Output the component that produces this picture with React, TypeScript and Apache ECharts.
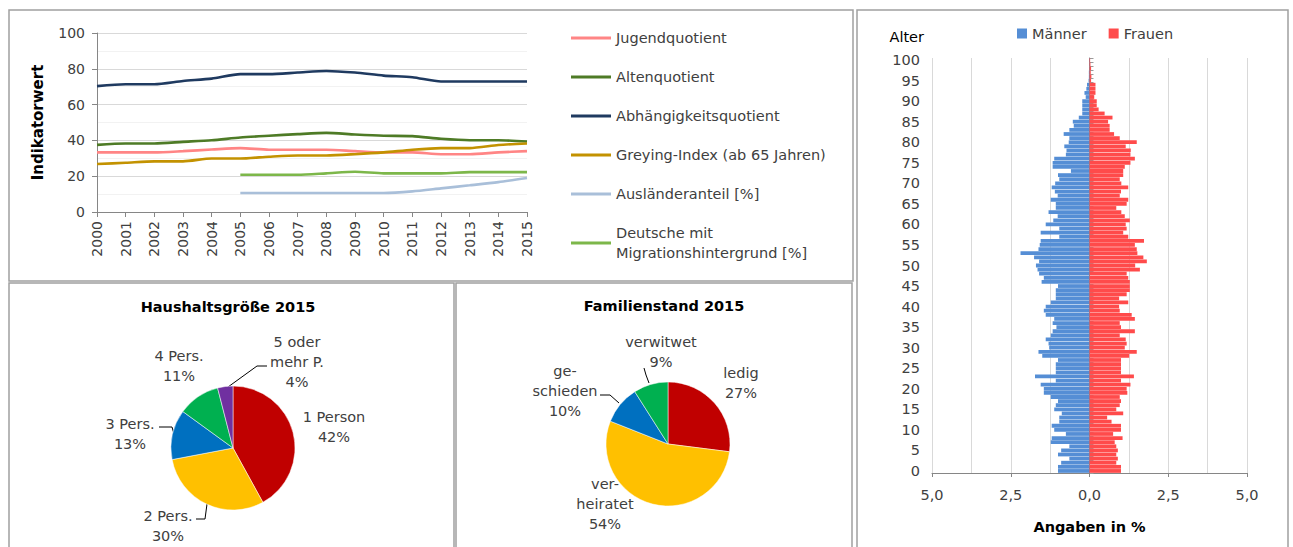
import React, { useEffect, useRef } from "react";
import * as echarts from "echarts";

const FONT = "DejaVu Sans";
const TXT = "#404040";

// ---- Line chart data ----
const years = ["2000","2001","2002","2003","2004","2005","2006","2007","2008","2009","2010","2011","2012","2013","2014","2015"];
const jugend = [33.3,33.3,33.3,34,34.9,35.7,34.8,34.8,34.8,34,33.3,33.3,32.3,32.3,33.3,34];
const alten = [37.5,38.3,38.3,39.2,40.1,41.6,42.6,43.5,44.2,43.3,42.6,42.4,40.9,40.1,40.1,39.4];
const abhaengig = [70.3,71.4,71.4,73.2,74.5,77,77,77.9,78.8,77.9,76.2,75.3,72.9,72.9,72.9,72.9];
const greying = [26.8,27.5,28.3,28.3,29.9,29.9,30.9,31.6,31.6,32.3,33.3,34.8,35.7,35.7,37.4,38.3];
const auslaender = [null,null,null,null,null,10.6,10.6,10.6,10.6,10.6,10.6,11.5,13.2,14.9,16.7,19];
const migration = [null,null,null,null,null,20.8,20.8,20.8,21.6,22.5,21.6,21.6,21.6,22.3,22.3,22.3];
const lineNames = [
  "Jugendquotient",
  "Altenquotient",
  "Abhängigkeitsquotient",
  "Greying-Index (ab 65 Jahren)",
  "Ausländeranteil [%]",
  "Deutsche mit\nMigrationshintergrund [%]",
];
const lineColors = ["#FF8585", "#4E7B26", "#1F3A60", "#C39200", "#A9BFD9", "#7DB74A"];
const lineData = [jugend, alten, abhaengig, greying, auslaender, migration];

// ---- Pie data ----
const hhNames = ["1 Person", "2 Pers.", "3 Pers.", "4 Pers.", "5 oder\nmehr P."];
const hhValues = [42, 30, 13, 11, 4];
const hhColors = ["#C00000", "#FFC000", "#0070C0", "#00B050", "#7030A0"];
const famNames = ["ledig", "ver-\nheiratet", "ge-\nschieden", "verwitwet"];
const famValues = [27, 54, 10, 9];
const famColors = ["#C00000", "#FFC000", "#0070C0", "#00B050"];

// label placement (positions, not data)
const hhLabelPos = [
  { x: 334, y: 427 },
  { x: 168, y: 526, line: [[196, 519], [205, 519], [207, 504]] },
  { x: 130, y: 434, line: [[159, 427], [172, 427], [174, 434]] },
  { x: 179, y: 366 },
  { x: 297, y: 362, line: [[267, 366], [257, 366], [228, 387]] },
];
const famLabelPos = [
  { x: 741, y: 383 },
  { x: 605, y: 504 },
  { x: 565, y: 391, line: [[600, 395], [610, 395], [619, 403]] },
  { x: 661, y: 352, line: [[644, 368], [646, 375], [649, 383]] },
];

// ---- Pyramid data (age 0 .. 100) ----
const ages = Array.from({ length: 101 }, (_, i) => String(i));
const maenner = [
  1.0,1.0,0.9,0.64,1.0,0.9,0.64,1.23,1.2,0.75,
  1.12,1.2,0.96,0.96,0.88,1.12,1.07,1.0,1.23,1.45,
  1.45,1.55,1.07,1.73,1.07,1.07,1.07,1.0,1.5,1.62,
  1.28,1.3,1.39,1.23,1.17,1.05,1.17,1.12,1.39,1.45,
  1.39,1.23,1.07,1.07,1.07,1.0,1.52,1.45,1.6,1.65,
  1.7,1.6,1.76,2.19,1.62,1.58,1.55,0.96,1.55,0.96,
  1.39,1.15,1.01,1.3,1.07,1.07,1.23,1.01,1.1,1.2,
  1.09,0.96,1.0,0.59,1.17,1.17,1.12,0.75,0.73,0.8,
  0.66,0.64,0.82,0.64,0.5,0.53,0.34,0.23,0.23,0.23,
  0.23,0.12,0.16,0.1,0.08,0.03,0.02,0.02,0.01,0.01,
  0.01,
];
const frauen = [
  1.0,1.0,0.85,0.9,0.85,0.9,0.85,0.8,1.05,0.75,
  1.0,1.0,0.7,0.56,1.07,0.85,0.96,1.0,0.96,1.2,
  1.18,1.3,1.0,1.41,1.0,1.0,1.0,1.0,1.26,1.5,
  1.12,1.18,1.15,0.96,1.44,1.0,0.96,1.44,1.34,0.96,
  0.94,1.23,0.94,1.18,1.28,1.28,1.28,1.23,1.18,1.6,
  1.45,1.82,1.71,1.52,1.5,1.44,1.73,1.23,1.07,1.18,
  1.15,1.28,1.12,1.01,0.85,1.18,1.23,0.96,1.0,1.23,
  1.01,0.96,1.07,1.07,1.12,1.3,1.44,1.3,1.31,1.15,
  1.5,0.96,0.78,0.64,0.64,0.59,0.73,0.48,0.29,0.23,
  0.23,0.15,0.19,0.19,0.19,0.05,0.06,0.04,0.05,0.03,
  0.02,
];

const baseText = { fontFamily: FONT, color: TXT, fontSize: 14.5 };

export default function App() {
  const ref = useRef<HTMLDivElement>(null);
  useEffect(() => {
    document.body.style.margin = "0";
    document.body.style.overflow = "hidden";
    const chart = echarts.init(ref.current as HTMLDivElement, null, { renderer: "svg" });

    const pieLabel = {
      ...baseText,
      lineHeight: 20,
      formatter: (p: any) => `${p.name}\n${Math.round(p.percent)}%`,
    };

    const option: any = {
      animation: false,
      backgroundColor: "#ffffff",
      textStyle: { fontFamily: FONT },
      title: [
        {
          text: "Haushaltsgröße 2015",
          left: 228,
          top: 299,
          padding: 0,
          textAlign: "center",
          textStyle: { fontFamily: FONT, fontSize: 14.5, fontWeight: "bold", color: "#000" },
        },
        {
          text: "Familienstand 2015",
          left: 664,
          top: 298,
          padding: 0,
          textAlign: "center",
          textStyle: { fontFamily: FONT, fontSize: 14.5, fontWeight: "bold", color: "#000" },
        },
      ],
      legend: [
        {
          orient: "vertical",
          left: 571,
          top: 28,
          padding: 0,
          itemWidth: 40,
          itemHeight: 3,
          icon: "rect",
          itemGap: 19,
          selectedMode: false,
          textStyle: { ...baseText, lineHeight: 20 },
          data: lineNames,
        },
        {
          left: 1017,
          top: 26,
          padding: 0,
          itemWidth: 10,
          itemHeight: 10,
          itemGap: 22,
          icon: "rect",
          selectedMode: false,
          textStyle: { ...baseText },
          data: ["Männer", "Frauen"],
        },
      ],
      grid: [
        { left: 97, top: 33, width: 430, height: 179 },
        { left: 932, top: 58, width: 315, height: 415 },
      ],
      xAxis: [
        {
          gridIndex: 0,
          type: "category",
          data: years,
          boundaryGap: false,
          axisLine: { lineStyle: { color: "#868686" } },
          axisTick: { show: true, length: 5, interval: 0, lineStyle: { color: "#868686" } },
          axisLabel: { ...baseText, fontSize: 14, rotate: 90, margin: 9, interval: 0 },
          splitLine: { show: false },
        },
        {
          gridIndex: 1,
          type: "value",
          min: -5,
          max: 5,
          interval: 2.5,
          axisLine: { show: true, onZero: false, lineStyle: { color: "#868686" } },
          axisTick: { show: true, length: 4, lineStyle: { color: "#868686" } },
          axisLabel: {
            ...baseText,
            margin: 14,
            formatter: (v: number) => Math.abs(v).toFixed(1).replace(".", ","),
          },
          splitLine: { show: true, lineStyle: { color: "#D9D9D9" } },
          minorTick: { show: false, splitNumber: 2 },
          minorSplitLine: { show: true, lineStyle: { color: "#D9D9D9" } },
          name: "Angaben in %",
          nameLocation: "middle",
          nameGap: 46,
          nameTextStyle: { fontFamily: FONT, fontSize: 14.5, fontWeight: "bold", color: "#000" },
        },
      ],
      yAxis: [
        {
          gridIndex: 0,
          type: "value",
          min: 0,
          max: 100,
          interval: 20,
          axisLine: { show: true, lineStyle: { color: "#868686" } },
          axisTick: { show: true, length: 5, lineStyle: { color: "#868686" } },
          axisLabel: { ...baseText, fontSize: 14, margin: 12 },
          splitLine: { show: true, lineStyle: { color: "#D9D9D9" } },
          minorTick: { show: false, splitNumber: 2 },
          minorSplitLine: { show: true, lineStyle: { color: "#F2F2F2" } },
          name: "Indikatorwert",
          nameLocation: "middle",
          nameGap: 52,
          nameTextStyle: { fontFamily: FONT, fontSize: 15, fontWeight: "bold", color: "#000" },
        },
        {
          gridIndex: 1,
          type: "category",
          data: ages,
          axisLine: { show: false, onZero: false },
          axisTick: { show: false },
          axisLabel: { ...baseText, interval: 4, margin: 12 },
          splitLine: { show: false },
          name: "Alter",
          nameLocation: "end",
          nameGap: 14,
          nameTextStyle: { ...baseText, color: "#000", align: "right", padding: [0, 8, 0, 0] },
        },
        {
          gridIndex: 1,
          type: "category",
          data: ages,
          axisLine: { show: true, onZero: true, lineStyle: { color: "#868686" } },
          axisTick: { show: true, length: 4, interval: 0, lineStyle: { color: "#9a9a9a" } },
          axisLabel: { show: false },
          splitLine: { show: false },
        },
      ],
      series: [
        ...lineData.map((d, i) => ({
          type: "line",
          name: lineNames[i],
          xAxisIndex: 0,
          yAxisIndex: 0,
          data: d,
          symbol: "none",
          smooth: 0.25,
          lineStyle: { width: 2.6, color: lineColors[i] },
          itemStyle: { color: lineColors[i] },
          emphasis: { disabled: true },
        })),
        {
          type: "bar",
          name: "Männer",
          xAxisIndex: 1,
          yAxisIndex: 1,
          stack: "pyr",
          data: maenner.map((v) => -v),
          barCategoryGap: "8%",
          itemStyle: { color: "#558ED5" },
          emphasis: { disabled: true },
        },
        {
          type: "bar",
          name: "Frauen",
          xAxisIndex: 1,
          yAxisIndex: 1,
          stack: "pyr",
          data: frauen,
          barCategoryGap: "8%",
          itemStyle: { color: "#FF4B4B" },
          emphasis: { disabled: true },
        },
        {
          type: "pie",
          name: "Haushaltsgröße 2015",
          center: [233, 448],
          radius: 62,
          startAngle: 90,
          clockwise: true,
          avoidLabelOverlap: false,
          data: hhNames.map((n, i) => ({
            name: n,
            value: hhValues[i],
            itemStyle: { color: hhColors[i] },
            labelLine: { show: !!hhLabelPos[i].line },
          })),
          itemStyle: { borderColor: "#ffffff", borderWidth: 0.5 },
          label: pieLabel,
          labelLine: { lineStyle: { color: "#000", width: 1 } },
          labelLayout: (p: any) => {
            const pos: any = hhLabelPos[p.dataIndex];
            const r: any = { x: pos.x, y: pos.y, align: "center", verticalAlign: "middle" };
            if (pos.line) r.labelLinePoints = pos.line;
            return r;
          },
          emphasis: { disabled: true },
        },
        {
          type: "pie",
          name: "Familienstand 2015",
          center: [668, 444],
          radius: 62,
          startAngle: 90,
          clockwise: true,
          avoidLabelOverlap: false,
          data: famNames.map((n, i) => ({
            name: n,
            value: famValues[i],
            itemStyle: { color: famColors[i] },
            labelLine: { show: !!famLabelPos[i].line },
          })),
          itemStyle: { borderColor: "#ffffff", borderWidth: 0.5 },
          label: pieLabel,
          labelLine: { lineStyle: { color: "#000", width: 1 } },
          labelLayout: (p: any) => {
            const pos: any = famLabelPos[p.dataIndex];
            const r: any = { x: pos.x, y: pos.y, align: "center", verticalAlign: "middle" };
            if (pos.line) r.labelLinePoints = pos.line;
            return r;
          },
          emphasis: { disabled: true },
        },
      ],
      graphic: [
        { type: "rect", silent: true, shape: { x: 9, y: 10, width: 844, height: 271 }, style: { fill: "none", stroke: "#A0A0A0", lineWidth: 1.5 } },
        { type: "rect", silent: true, shape: { x: 857, y: 10, width: 431, height: 545 }, style: { fill: "none", stroke: "#A0A0A0", lineWidth: 1.5 } },
        { type: "rect", silent: true, shape: { x: 9, y: 283, width: 445, height: 272 }, style: { fill: "none", stroke: "#A0A0A0", lineWidth: 1.5 } },
        { type: "rect", silent: true, shape: { x: 456, y: 283, width: 396, height: 272 }, style: { fill: "none", stroke: "#A0A0A0", lineWidth: 1.5 } },
      ],
    };

    chart.setOption(option);
    return () => chart.dispose();
  }, []);
  return <div ref={ref} style={{ width: 1293, height: 547, background: "#fff" }} />;
}
